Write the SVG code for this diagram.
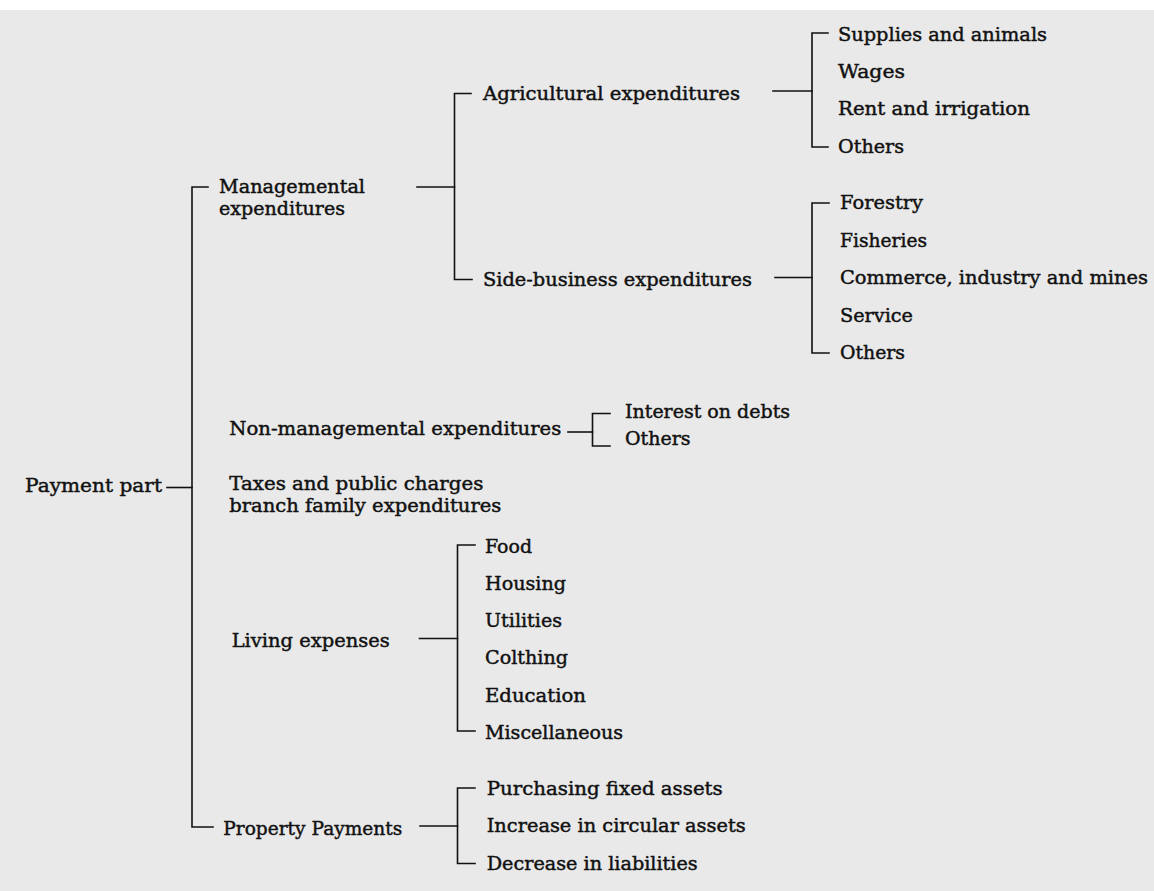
<svg xmlns="http://www.w3.org/2000/svg" width="1154" height="891" viewBox="0 0 1154 891">
  <style>
    text { font-family: "DejaVu Serif", "Liberation Serif", serif; font-size: 19px; fill: #111; stroke: #111; stroke-width: 0.45px; }
    text.two { font-size: 18px; }
    .ln { fill: none; stroke: #111; stroke-width: 1.6; stroke-linecap: square; }
  </style>
  <rect x="0" y="0" width="1154" height="891" fill="#e9e9e9"/>
  <rect x="0" y="0" width="1154" height="10" fill="#ffffff"/>

  <g id="connectors" class="ln">
    <!-- main bracket -->
    <path d="M208,187 H192 V827 H213"/>
    <path d="M167,487.5 H192"/>
    <!-- managemental -> agri/side -->
    <path d="M417,187 H454.5"/>
    <path d="M471,93.5 H454.5 V279.5 H472"/>
    <!-- agricultural -> items -->
    <path d="M773,91 H812"/>
    <path d="M828,33 H812 V147 H828"/>
    <!-- side-business -> items -->
    <path d="M775,277.5 H812"/>
    <path d="M829,203 H812 V353 H829"/>
    <!-- non-managemental -->
    <path d="M568,432 H592.5"/>
    <path d="M610,413.5 H592.5 V446 H610"/>
    <!-- living expenses -->
    <path d="M419.5,638.5 H457.5"/>
    <path d="M475,545 H457.5 V731 H475"/>
    <!-- property payments -->
    <path d="M420,826 H457.5"/>
    <path d="M475,788 H457.5 V863.5 H475"/>
  </g>

  <g id="payment-part"><text x="25" y="492" textLength="137" lengthAdjust="spacingAndGlyphs">Payment part</text></g>

  <g id="managemental">
    <text class="two" x="219" y="192.5" textLength="146" lengthAdjust="spacingAndGlyphs">Managemental</text>
    <text class="two" x="219" y="214.5" textLength="126" lengthAdjust="spacingAndGlyphs">expenditures</text>
  </g>
  <g id="agricultural"><text x="483" y="99.5" textLength="257" lengthAdjust="spacingAndGlyphs">Agricultural expenditures</text></g>
  <g id="side-business"><text x="483" y="285.7" textLength="269" lengthAdjust="spacingAndGlyphs">Side-business expenditures</text></g>

  <g id="agri-supplies"><text x="838" y="40.7" textLength="209" lengthAdjust="spacingAndGlyphs">Supplies and animals</text></g>
  <g id="agri-wages"><text x="838" y="78" textLength="67" lengthAdjust="spacingAndGlyphs">Wages</text></g>
  <g id="agri-rent"><text x="838" y="115.3" textLength="192" lengthAdjust="spacingAndGlyphs">Rent and irrigation</text></g>
  <g id="agri-others"><text x="838" y="152.7" textLength="66" lengthAdjust="spacingAndGlyphs">Others</text></g>

  <g id="side-forestry"><text x="840" y="209.3" textLength="83" lengthAdjust="spacingAndGlyphs">Forestry</text></g>
  <g id="side-fisheries"><text x="840" y="246.7" textLength="87" lengthAdjust="spacingAndGlyphs">Fisheries</text></g>
  <g id="side-commerce"><text x="840" y="284" textLength="308" lengthAdjust="spacingAndGlyphs">Commerce, industry and mines</text></g>
  <g id="side-service"><text x="840" y="321.7" textLength="73" lengthAdjust="spacingAndGlyphs">Service</text></g>
  <g id="side-others"><text x="840" y="359" textLength="65" lengthAdjust="spacingAndGlyphs">Others</text></g>

  <g id="non-managemental"><text x="229.3" y="435" textLength="332" lengthAdjust="spacingAndGlyphs">Non-managemental expenditures</text></g>
  <g id="nm-interest"><text x="625" y="418">Interest on debts</text></g>
  <g id="nm-others"><text x="625" y="445">Others</text></g>

  <g id="taxes">
    <text class="two" x="229.3" y="489.5" textLength="254" lengthAdjust="spacingAndGlyphs">Taxes and public charges</text>
    <text class="two" x="229.3" y="511.5" textLength="272" lengthAdjust="spacingAndGlyphs">branch family expenditures</text>
  </g>

  <g id="living"><text x="231.7" y="647.3" textLength="158" lengthAdjust="spacingAndGlyphs">Living expenses</text></g>
  <g id="living-food"><text x="485" y="552.7" textLength="47" lengthAdjust="spacingAndGlyphs">Food</text></g>
  <g id="living-housing"><text x="485" y="590" textLength="81" lengthAdjust="spacingAndGlyphs">Housing</text></g>
  <g id="living-utilities"><text x="485" y="627.3" textLength="77" lengthAdjust="spacingAndGlyphs">Utilities</text></g>
  <g id="living-clothing"><text x="485" y="664" textLength="83" lengthAdjust="spacingAndGlyphs">Colthing</text></g>
  <g id="living-education"><text x="485" y="701.7" textLength="101" lengthAdjust="spacingAndGlyphs">Education</text></g>
  <g id="living-misc"><text x="485" y="739.3" textLength="138" lengthAdjust="spacingAndGlyphs">Miscellaneous</text></g>

  <g id="property"><text x="223.3" y="835" textLength="179" lengthAdjust="spacingAndGlyphs">Property Payments</text></g>
  <g id="prop-purchasing"><text x="486.7" y="795" textLength="236" lengthAdjust="spacingAndGlyphs">Purchasing fixed assets</text></g>
  <g id="prop-increase"><text x="486.7" y="832.3" textLength="259" lengthAdjust="spacingAndGlyphs">Increase in circular assets</text></g>
  <g id="prop-decrease"><text x="486.7" y="870" textLength="211" lengthAdjust="spacingAndGlyphs">Decrease in liabilities</text></g>
</svg>
